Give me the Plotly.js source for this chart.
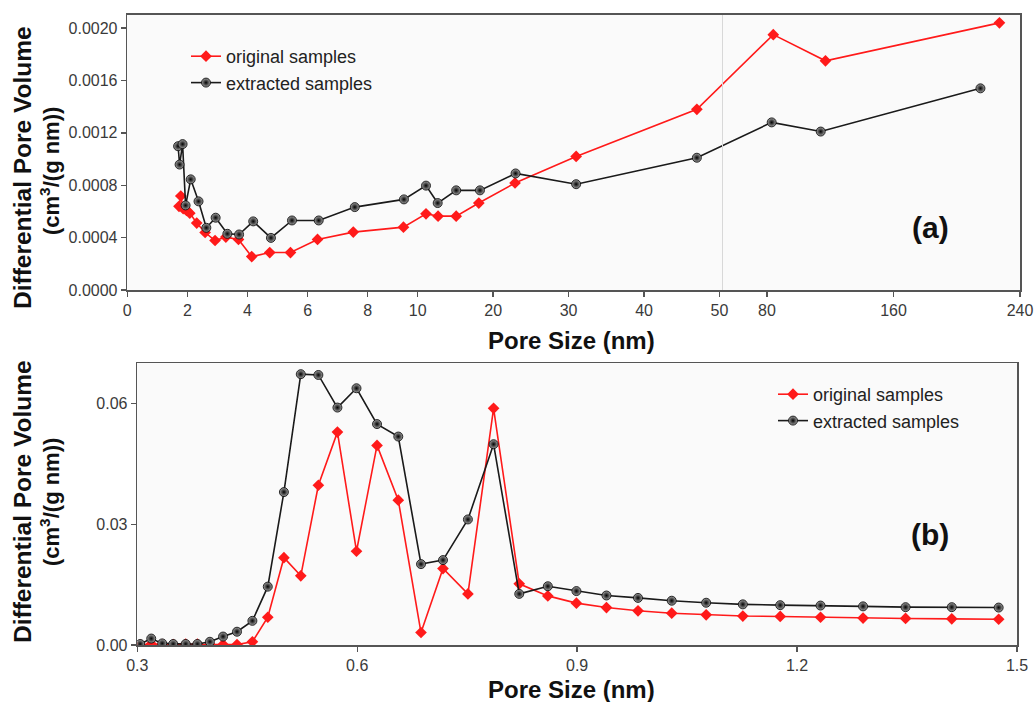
<!DOCTYPE html>
<html>
<head>
<meta charset="utf-8">
<script src="https://cdn.plot.ly/plotly-3.0.1.min.js"></script>
<style>html,body{margin:0;padding:0;background:#fff;}#chart{width:1034px;height:702px;}</style>
</head>
<body>
<div id="chart"></div>
<script>
// ---------- (a) mesopore region, pore size in nm ----------
const aOrigX = [1.72,1.78,1.86,1.97,2.08,2.31,2.59,2.92,3.28,3.70,4.14,4.74,5.43,6.33,7.52,9.43,11.1,12.7,15.1,18.1,22.9,31,47,84,117,227];
const aOrigY = [0.000639,0.000718,0.000621,0.000608,0.000587,0.000511,0.000439,0.000378,0.000404,0.000386,0.000255,0.000286,0.000286,0.000386,0.000442,0.000480,0.000582,0.000564,0.000564,0.000664,0.000817,0.00102,0.00138,0.00195,0.00175,0.00204];
const aExtrX = [1.69,1.74,1.84,1.94,2.11,2.37,2.63,2.94,3.33,3.72,4.19,4.78,5.48,6.37,7.57,9.45,11.1,12.65,15.1,18.25,22.97,31,47,83,114,215];
const aExtrY = [0.001098,0.000958,0.001114,0.000646,0.000845,0.000677,0.000475,0.000552,0.000429,0.000424,0.000524,0.000398,0.000531,0.000531,0.000633,0.000692,0.000797,0.000664,0.000761,0.000761,0.000890,0.000808,0.00101,0.00128,0.00121,0.00154];
const aTickNm = [0,2,4,6,8,10,20,30,40,50,80,160,240];
// broken x-axis scale: segment breakpoints (nm) and their axis units
const breakNm = [0,8,10,50,240];
const breakU  = [0,240.4,290.4,592.2,892.7];

// ---------- (b) micropore region ----------
const bOrigX = [0.304,0.319,0.334,0.349,0.366,0.382,0.399,0.417,0.436,0.457,0.478,0.500,0.523,0.547,0.573,0.599,0.627,0.656,0.687,0.717,0.751,0.786,0.821,0.860,0.899,0.940,0.983,1.029,1.076,1.126,1.177,1.232,1.290,1.348,1.411,1.475];
const bOrigY = [0,0.00025,0.0001,0.0001,0.0002,0.0002,0.0001,0.0001,0.0001,0.0008,0.0069,0.0217,0.0172,0.0397,0.0529,0.0233,0.0496,0.0360,0.0031,0.0190,0.0127,0.0588,0.0152,0.0122,0.0104,0.0093,0.0085,0.0079,0.0075,0.0072,0.0071,0.0069,0.0067,0.0066,0.0065,0.0064];
const bExtrX = bOrigX;
const bExtrY = [0.00025,0.0016,0.0004,0.00025,0.00025,0.00025,0.0008,0.0021,0.0033,0.0060,0.0145,0.0380,0.0673,0.0671,0.0590,0.0638,0.0549,0.0518,0.0201,0.0211,0.0312,0.0499,0.0127,0.0146,0.0134,0.0123,0.0117,0.0110,0.0105,0.0101,0.0099,0.0098,0.0096,0.0094,0.0094,0.0093];
const bTicks = [0.3,0.6,0.9,1.2,1.5];

const seriesNames = ['original samples','extracted samples'];

function brk(v){
  for (let i = 0; i < breakNm.length - 1; i++) {
    if (v <= breakNm[i+1] || i === breakNm.length - 2) {
      const t = (v - breakNm[i]) / (breakNm[i+1] - breakNm[i]);
      return breakU[i] + t * (breakU[i+1] - breakU[i]);
    }
  }
}

const W = 1034, H = 702;
const FONT = 'Liberation Sans, Arial, sans-serif';
const red = '#ff1a1a', blk = '#1a1a1a';

const redStyle = {mode:'lines+markers', line:{color:red,width:1.6}, marker:{symbol:'diamond',size:9,color:red}};
const blkStyle = {mode:'lines+markers', line:{color:blk,width:1.6}, marker:{symbol:'circle',size:9,color:'#a0a0a0',gradient:{type:'radial',color:'#000'}, line:{color:'#000',width:0.8}}};

const traces = [
  Object.assign({x:aOrigX.map(brk), y:aOrigY, name:seriesNames[0], xaxis:'x', yaxis:'y', legend:'legend'}, redStyle),
  Object.assign({x:aExtrX.map(brk), y:aExtrY, name:seriesNames[1], xaxis:'x', yaxis:'y', legend:'legend'}, blkStyle),
  Object.assign({x:bOrigX, y:bOrigY, name:seriesNames[0], xaxis:'x2', yaxis:'y2', legend:'legend2'}, redStyle),
  Object.assign({x:bExtrX, y:bExtrY, name:seriesNames[1], xaxis:'x2', yaxis:'y2', legend:'legend2'}, blkStyle)
];

const axBase = {showgrid:false, zeroline:false, showline:true, linecolor:'#555', linewidth:1.6, mirror:true,
  ticks:'outside', ticklen:5, tickwidth:1.4, tickcolor:'#555', tickfont:{family:FONT,size:16,color:'#3a3a3a'}};

const ann = (text, px, py, size, angle) => ({text:text, xref:'paper', yref:'paper', x:px/W, y:(H-py)/H,
  xanchor:'center', yanchor:'middle', textangle:angle||0, showarrow:false, font:{family:FONT,size:size,color:'#111'}});

const layout = {
  width:W, height:H, margin:{l:0,r:0,t:0,b:0}, paper_bgcolor:'#ffffff', plot_bgcolor:'#fafafa',
  font:{family:FONT},
  xaxis: Object.assign({}, axBase, {domain:[127.3/W, 1020/W], anchor:'y', range:[0, breakU[breakU.length-1]],
    tickmode:'array', tickvals:aTickNm.map(brk), ticktext:aTickNm.map(String)}),
  yaxis: Object.assign({}, axBase, {domain:[(H-290)/H, (H-15)/H], anchor:'x', range:[0,0.0021],
    tickmode:'array', tickvals:[0,0.0004,0.0008,0.0012,0.0016,0.0020], tickformat:'.4f'}),
  xaxis2: Object.assign({}, axBase, {domain:[137.3/W, 1017/W], anchor:'y2', range:[0.3,1.5],
    tickmode:'array', tickvals:bTicks, tickformat:'.1f'}),
  yaxis2: Object.assign({}, axBase, {domain:[(H-645)/H, (H-363.3)/H], anchor:'x2', range:[0,0.07],
    tickmode:'array', tickvals:[0,0.03,0.06], tickformat:'.2f'}),
  legend: {x:186/W, y:(H-38)/H, xanchor:'left', yanchor:'top', bgcolor:'rgba(0,0,0,0)', font:{family:FONT,size:18,color:'#222'}, tracegroupgap:0},
  legend2: {x:773/W, y:(H-376)/H, xanchor:'left', yanchor:'top', bgcolor:'rgba(0,0,0,0)', font:{family:FONT,size:18,color:'#222'}, tracegroupgap:0},
  shapes: [
    {type:'line', xref:'x', yref:'y domain', x0:brk(50)+3, x1:brk(50)+3, y0:0, y1:1, line:{color:'#d8d8d8', width:1}}
  ],
  annotations: [
    ann('<b>Differential Pore Volume</b>', 22, 168, 24.5, -90),
    ann('<b>(cm<sup>3</sup>/(g nm))</b>', 50, 171, 22, -90),
    ann('<b>Pore Size (nm)</b>', 571, 340, 24),
    ann('<b>(a)</b>', 930, 227, 30),
    ann('<b>Differential Pore Volume</b>', 22, 502, 24.5, -90),
    ann('<b>(cm<sup>3</sup>/(g nm))</b>', 50, 502, 22, -90),
    ann('<b>Pore Size (nm)</b>', 571, 689, 24),
    ann('<b>(b)</b>', 930, 534, 30)
  ]
};

Plotly.newPlot('chart', traces, layout, {displayModeBar:false, staticPlot:true});
</script>
</body>
</html>
